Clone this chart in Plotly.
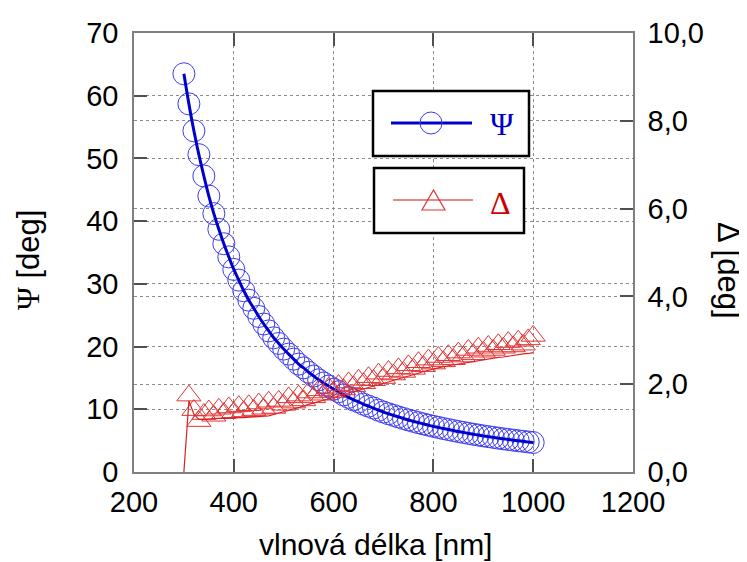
import plotly.graph_objects as go

# ---------------- data ----------------
wavelength = list(range(300, 1001, 10))

psi = [63.5, 58.7, 54.4, 50.6, 47.2, 44.0, 41.2, 38.7, 36.4, 34.3,
       32.3, 30.6, 28.9, 27.4, 26.1, 24.8, 23.6, 22.5, 21.4, 20.5,
       19.6, 18.8, 18.0, 17.2, 16.6, 15.9, 15.3, 14.7, 14.2, 13.7,
       13.2, 12.8, 12.3, 11.9, 11.5, 11.2, 10.8, 10.5, 10.2, 9.85,
       9.56, 9.29, 9.03, 8.78, 8.53, 8.30, 8.08, 7.87, 7.67, 7.47,
       7.28, 7.11, 6.93, 6.77, 6.61, 6.45, 6.31, 6.16, 6.02, 5.89,
       5.76, 5.64, 5.52, 5.40, 5.29, 5.19, 5.08, 4.98, 4.89, 4.79,
       4.70]

delta_meas = [None, 1.74, 1.41, 1.16, 1.32, 1.40, 1.28, 1.44, 1.34, 1.47,
              1.36, 1.50, 1.38, 1.52, 1.41, 1.56, 1.44, 1.60, 1.46, 1.62,
              1.53, 1.70, 1.58, 1.74, 1.63, 1.81, 1.70, 1.86, 1.76, 1.92,
              1.82, 1.98, 1.88, 2.04, 1.95, 2.10, 2.02, 2.16, 2.09, 2.24,
              2.14, 2.30, 2.22, 2.36, 2.28, 2.43, 2.35, 2.50, 2.41, 2.56,
              2.47, 2.62, 2.52, 2.66, 2.57, 2.72, 2.63, 2.78, 2.68, 2.83,
              2.74, 2.87, 2.78, 2.91, 2.83, 2.96, 2.86, 2.99, 2.90, 3.02,
              3.10]

delta_line = [0.00, 1.62, 1.32, 1.20, 1.20, 1.21, 1.21, 1.22, 1.22, 1.23,
              1.23, 1.24, 1.24, 1.25, 1.25, 1.26, 1.27, 1.28, 1.31, 1.34,
              1.37, 1.40, 1.44, 1.47, 1.50, 1.54, 1.57, 1.60, 1.64, 1.67,
              1.70, 1.73, 1.76, 1.80, 1.83, 1.86, 1.89, 1.92, 1.96, 1.99,
              2.02, 2.05, 2.09, 2.12, 2.15, 2.19, 2.22, 2.25, 2.29, 2.32,
              2.35, 2.37, 2.40, 2.42, 2.44, 2.46, 2.48, 2.50, 2.52, 2.54,
              2.56, 2.58, 2.59, 2.61, 2.62, 2.64, 2.65, 2.67, 2.69, 2.70,
              2.72]

x_ticks = [200, 400, 600, 800, 1000, 1200]
psi_ticks = [0, 10, 20, 30, 40, 50, 60, 70]
delta_ticks = [0, 2, 4, 6, 8, 10]
delta_tick_labels = ["0,0", "2,0", "4,0", "6,0", "8,0", "10,0"]

# ---------------- styling ----------------
SANS = "Liberation Sans, Arial, sans-serif"
SERIF = "Liberation Serif, Times New Roman, serif"
BLUE_LINE = "#0000cc"
BLUE_MARK = "#3c3cf0"
RED_MARK = "#e03535"
RED_LINE = "#e02020"
GRID = "#8c8c8c"
TICK = "#505050"
AXLINE = "#808080"

# the html page has an 8 px body margin, so the figure is drawn 8 px smaller
OFF = 8
W, H = 747 - OFF, 562 - OFF
PLOT_LEFT, PLOT_RIGHT, PLOT_TOP, PLOT_BOTTOM = 134, 633, 33, 472   # page pixels
L, T = PLOT_LEFT - OFF, PLOT_TOP - OFF
R = W - (PLOT_RIGHT - OFF)
B = H - (PLOT_BOTTOM - OFF)
PW, PH = PLOT_RIGHT - PLOT_LEFT, PLOT_BOTTOM - PLOT_TOP


def px(xp):
    return (xp - PLOT_LEFT) / PW


def py(yp):
    return (PLOT_BOTTOM - yp) / PH


fig = go.Figure()

fig.add_trace(go.Scatter(
    x=wavelength, y=psi, mode="markers", yaxis="y",
    marker=dict(symbol="circle-open", size=22, color=BLUE_MARK,
                line=dict(width=1, color=BLUE_MARK)),
    showlegend=False, name="Ψ"))

fig.add_trace(go.Scatter(
    x=wavelength, y=delta_meas, mode="markers", yaxis="y2",
    marker=dict(symbol="triangle-up-open", size=21, color=RED_MARK,
                line=dict(width=1, color=RED_MARK)),
    showlegend=False, name="Δ"))

fig.add_trace(go.Scatter(
    x=wavelength, y=delta_line, mode="lines", yaxis="y2",
    line=dict(color=RED_LINE, width=1.2),
    showlegend=False, name="Δ fit"))

fig.add_trace(go.Scatter(
    x=wavelength, y=psi, mode="lines", yaxis="y",
    line=dict(color=BLUE_LINE, width=3, shape="spline"),
    showlegend=False, name="Ψ fit"))

axis_common = dict(
    ticks="inside", ticklen=13, tickwidth=1.5, tickcolor=TICK,
    showline=True, linecolor=AXLINE, linewidth=1.5,
    showgrid=True, gridcolor=GRID, gridwidth=1, griddash="dot",
    zeroline=False, automargin=False,
    tickfont=dict(family=SANS, size=29, color="black"),
)

fig.update_layout(
    width=W, height=H,
    margin=dict(l=L, r=R, t=T, b=B, autoexpand=False),
    paper_bgcolor="white", plot_bgcolor="white",
    xaxis=dict(range=[200, 1200], tickvals=x_ticks, mirror="ticks",
               ticklabelstandoff=3, **axis_common),
    yaxis=dict(range=[0, 70], tickvals=psi_ticks, ticklabelstandoff=8,
               **axis_common),
    yaxis2=dict(range=[0, 10], tickvals=delta_ticks, ticktext=delta_tick_labels,
                overlaying="y", side="right", ticklabelstandoff=7,
                **axis_common),
)

# axis titles
fig.add_annotation(
    text="vlnová délka [nm]", xref="paper", yref="paper",
    x=px(375.5), y=py(544), xanchor="center", yanchor="middle",
    showarrow=False, font=dict(family=SANS, size=30, color="black"))
fig.add_annotation(
    text=f"<span style='font-family:{SERIF}'>Ψ</span> [deg]",
    xref="paper", yref="paper", x=px(28), y=py(260),
    xanchor="center", yanchor="middle", textangle=-90,
    showarrow=False, font=dict(family=SANS, size=31, color="black"))
fig.add_annotation(
    text="Δ [deg]", xref="paper", yref="paper", x=px(729), y=py(270),
    xanchor="center", yanchor="middle", textangle=90,
    showarrow=False, font=dict(family=SANS, size=31, color="black"))

# legend boxes (drawn as shapes, one box per series)
shapes = [
    dict(type="rect", xref="paper", yref="paper",
         x0=px(373), x1=px(529), y0=py(156), y1=py(91),
         line=dict(color="black", width=2.5), fillcolor="white", layer="above"),
    dict(type="rect", xref="paper", yref="paper",
         x0=px(374), x1=px(524), y0=py(233), y1=py(168),
         line=dict(color="black", width=2.5), fillcolor="white", layer="above"),
    dict(type="line", xref="paper", yref="paper",
         x0=px(391), x1=px(472), y0=py(123), y1=py(123),
         line=dict(color=BLUE_LINE, width=3), layer="above"),
    dict(type="circle", xref="paper", yref="paper",
         x0=px(420), x1=px(442), y0=py(134), y1=py(112),
         line=dict(color=BLUE_MARK, width=1), fillcolor="rgba(0,0,0,0)",
         layer="above"),
    dict(type="line", xref="paper", yref="paper",
         x0=px(393), x1=px(473), y0=py(200), y1=py(200),
         line=dict(color="#e06060", width=1.5), layer="above"),
    dict(type="path", xref="paper", yref="paper",
         path=f"M {px(422)},{py(210)} L {px(445)},{py(210)} L {px(433.5)},{py(190)} Z",
         line=dict(color=RED_MARK, width=1.2), fillcolor="rgba(0,0,0,0)",
         layer="above"),
]
fig.update_layout(shapes=shapes)

fig.add_annotation(
    text="Ψ", xref="paper", yref="paper", x=px(501.5), y=py(124),
    xanchor="center", yanchor="middle", showarrow=False,
    font=dict(family=SERIF, size=32, color=BLUE_LINE))
fig.add_annotation(
    text="Δ", xref="paper", yref="paper", x=px(500), y=py(202.5),
    xanchor="center", yanchor="middle", showarrow=False,
    font=dict(family=SERIF, size=32, color="#cc0000"))

fig.write_html("out.html")
